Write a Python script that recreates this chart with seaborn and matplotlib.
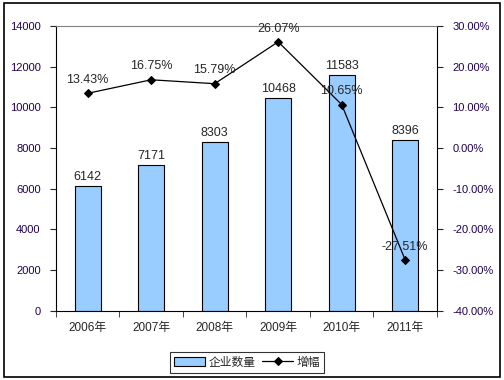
import pandas as pd
import seaborn as sns
import matplotlib.pyplot as plt
from matplotlib.ticker import FuncFormatter, FixedLocator
from matplotlib.patches import Rectangle

# data
years = ['2006年', '2007年', '2008年', '2009年', '2010年', '2011年']
counts = [6142, 7171, 8303, 10468, 11583, 8396]
growth = [13.43, 16.75, 15.79, 26.07, 10.65, -27.51]
bar_name = '企业数量'
line_name = '增幅'

sns.set_style('white')
plt.rcParams['font.family'] = ['Liberation Sans', 'Noto Sans CJK SC', 'DejaVu Sans']

df = pd.DataFrame({'year': years, 'count': counts, 'growth': growth})

fig = plt.figure(figsize=(5.04, 3.80), dpi=100)
ax = fig.add_axes([0.111, 0.182, 0.756, 0.750])

sns.barplot(data=df, x='year', y='count', color='#99CCFF', edgecolor='black',
            linewidth=0.8, width=0.41, saturation=1, ax=ax, label=bar_name)
ax.set_ylim(0, 14000)
ax.set_xlim(-0.5, len(years) - 0.5)
ax.set_yticks(range(0, 14001, 2000))
ax.set_xlabel('')
ax.set_ylabel('')
ax.tick_params(axis='y', labelsize=8, length=4, direction='out', left=True, pad=7)
ax.tick_params(axis='x', labelsize=8.5, length=0, pad=8)
ax.xaxis.set_minor_locator(FixedLocator([i + 0.5 for i in range(-1, len(years))]))
ax.tick_params(axis='x', which='minor', length=4, direction='out', bottom=True)
for lbl in ax.get_yticklabels():
    lbl.set_color('#200050')

for i, v in enumerate(counts):
    ax.text(i, v + 150, str(v), ha='center', va='bottom', fontsize=9)

for side in ['left', 'bottom', 'right']:
    ax.spines[side].set_color('black')
    ax.spines[side].set_linewidth(0.8)
ax.spines['top'].set_color('#808080')
ax.spines['top'].set_linewidth(0.8)

ax2 = ax.twinx()
sns.lineplot(x=list(range(len(years))), y=growth, color='black', linewidth=0.9,
             marker='D', markersize=4, markeredgecolor='black', ax=ax2, label=line_name)
ax2.set_ylim(-40, 30)
ax2.set_yticks(range(-40, 31, 10))
ax2.yaxis.set_major_formatter(FuncFormatter(lambda v, p: f'{v:.2f}%'))
ax2.tick_params(axis='y', labelsize=8, length=4, direction='out', right=True, pad=7)
for lbl in ax2.get_yticklabels():
    lbl.set_color('#200050')
for side in ['left', 'bottom', 'right', 'top']:
    ax2.spines[side].set_visible(False)
ax.spines['right'].set_visible(True)

for i, g in enumerate(growth):
    ax2.text(i, g + 1.8, f'{g:.2f}%', ha='center', va='bottom', fontsize=9)

# combined legend at bottom
h1, l1 = ax.get_legend_handles_labels()
h2, l2 = ax2.get_legend_handles_labels()
if ax.get_legend():
    ax.get_legend().remove()
ax2.get_legend().remove()
leg = fig.legend(h1 + h2, l1 + l2, loc='center', bbox_to_anchor=(0.49, 0.046),
                 ncol=2, fontsize=8.5, frameon=True, fancybox=False, edgecolor='black',
                 handlelength=2.6, handletextpad=0.3, columnspacing=0.6,
                 borderpad=0.35)
leg.get_frame().set_linewidth(0.8)

# outer frame
fig.patches.append(Rectangle((0.008, 0.008), 0.984, 0.984, transform=fig.transFigure,
                             fill=False, edgecolor='black', linewidth=1.2))

fig.savefig('out.png', dpi=100)
